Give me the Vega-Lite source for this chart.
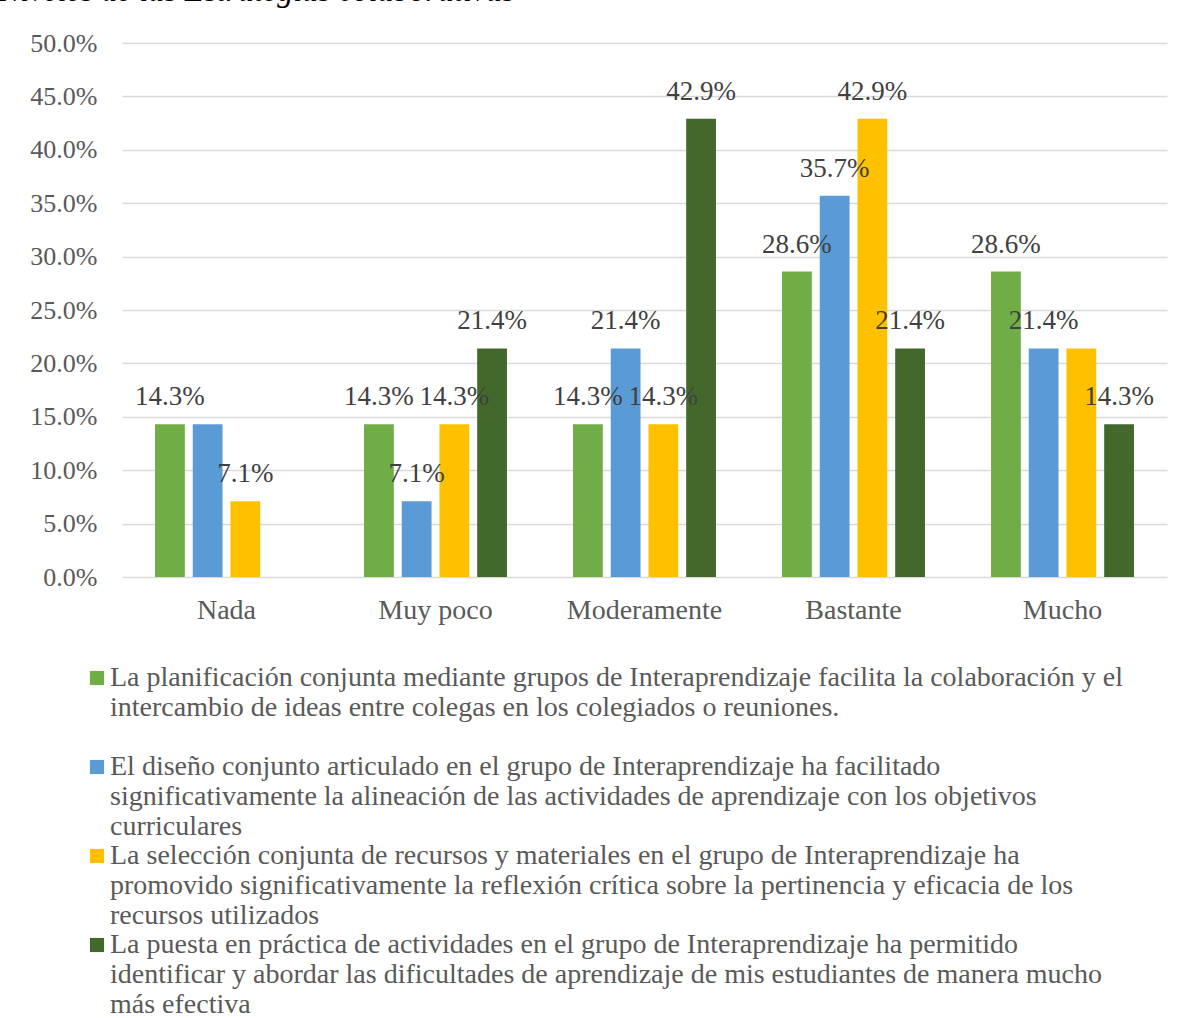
{
  "$schema": "https://vega.github.io/schema/vega-lite/v6.json",
  "autosize": {"type": "none"},
  "width": 1045,
  "height": 534,
  "padding": {"left": 122, "top": 43, "right": 15, "bottom": 441},
  "background": "white",
  "config": {"view": {"stroke": null}},
  "title": {
    "text": "Niveles de las Estrategias colaborativas",
    "anchor": "start",
    "frame": "group",
    "dx": -123,
    "dy": 20,
    "fontStyle": "italic",
    "fontWeight": "normal",
    "font": "Liberation Serif",
    "fontSize": 32,
    "color": "#000000",
    "baseline": "alphabetic",
    "offset": 17
  },
  "data": {
    "values": [
      {"nivel": "Nada", "serie": "s1", "valor": 0.143, "etiqueta": "14.3%"},
      {"nivel": "Nada", "serie": "s2", "valor": 0.143, "etiqueta": ""},
      {"nivel": "Nada", "serie": "s3", "valor": 0.071, "etiqueta": "7.1%"},
      {"nivel": "Nada", "serie": "s4", "valor": 0.0, "etiqueta": ""},
      {"nivel": "Muy poco", "serie": "s1", "valor": 0.143, "etiqueta": "14.3%"},
      {"nivel": "Muy poco", "serie": "s2", "valor": 0.071, "etiqueta": "7.1%"},
      {"nivel": "Muy poco", "serie": "s3", "valor": 0.143, "etiqueta": "14.3%"},
      {"nivel": "Muy poco", "serie": "s4", "valor": 0.214, "etiqueta": "21.4%"},
      {"nivel": "Moderamente", "serie": "s1", "valor": 0.143, "etiqueta": "14.3%"},
      {"nivel": "Moderamente", "serie": "s2", "valor": 0.214, "etiqueta": "21.4%"},
      {"nivel": "Moderamente", "serie": "s3", "valor": 0.143, "etiqueta": "14.3%"},
      {"nivel": "Moderamente", "serie": "s4", "valor": 0.429, "etiqueta": "42.9%"},
      {"nivel": "Bastante", "serie": "s1", "valor": 0.286, "etiqueta": "28.6%"},
      {"nivel": "Bastante", "serie": "s2", "valor": 0.357, "etiqueta": "35.7%"},
      {"nivel": "Bastante", "serie": "s3", "valor": 0.429, "etiqueta": "42.9%"},
      {"nivel": "Bastante", "serie": "s4", "valor": 0.214, "etiqueta": "21.4%"},
      {"nivel": "Mucho", "serie": "s1", "valor": 0.286, "etiqueta": "28.6%"},
      {"nivel": "Mucho", "serie": "s2", "valor": 0.214, "etiqueta": "21.4%"},
      {"nivel": "Mucho", "serie": "s3", "valor": 0.214, "etiqueta": ""},
      {"nivel": "Mucho", "serie": "s4", "valor": 0.143, "etiqueta": "14.3%"}
    ]
  },
  "encoding": {
    "x": {
      "field": "nivel",
      "type": "nominal",
      "sort": ["Nada", "Muy poco", "Moderamente", "Bastante", "Mucho"],
      "scale": {"paddingInner": 0.316, "paddingOuter": 0.158},
      "axis": {
        "title": null,
        "labelAngle": 0,
        "labelFont": "Liberation Serif",
        "labelFontSize": 28,
        "labelColor": "#595959",
        "labelPadding": 19,
        "ticks": false,
        "domain": false
      }
    },
    "xOffset": {
      "field": "serie",
      "type": "nominal",
      "sort": ["s1", "s2", "s3", "s4"],
      "scale": {"paddingInner": 0.21, "paddingOuter": 0}
    },
    "y": {
      "field": "valor",
      "type": "quantitative",
      "scale": {"domain": [0, 0.5], "nice": false},
      "axis": {
        "title": null,
        "values": [0, 0.05, 0.1, 0.15, 0.2, 0.25, 0.3, 0.35, 0.4, 0.45, 0.5],
        "format": ".1%",
        "labelFont": "Liberation Serif",
        "labelFontSize": 26,
        "labelColor": "#595959",
        "labelPadding": 25,
        "ticks": false,
        "domain": false,
        "grid": true,
        "gridColor": "#D9D9D9",
        "gridWidth": 1.5
      }
    }
  },
  "layer": [
    {
      "mark": {"type": "bar"},
      "encoding": {
        "color": {
          "field": "serie",
          "type": "nominal",
          "sort": ["s1", "s2", "s3", "s4"],
          "scale": {
            "domain": ["s1", "s2", "s3", "s4"],
            "range": ["#70AD47", "#5B9BD5", "#FFC000", "#43682B"]
          },
          "legend": {
            "orient": "none",
            "legendX": -39,
            "legendY": 621,
            "direction": "vertical",
            "title": null,
            "symbolType": "square",
            "symbolSize": 200,
            "symbolStrokeWidth": 0,
            "labelFont": "Liberation Serif",
            "labelFontSize": 28,
            "labelColor": "#595959",
            "labelLimit": 2000,
            "labelOffset": -1,
            "labelBaseline": "middle",
            "labelLineHeight": 32,
            "rowPadding": 1,
            "labelExpr": "datum.value == 's1' ? ['La planificación conjunta mediante grupos de Interaprendizaje facilita la colaboración y el', 'intercambio de ideas entre colegas en los colegiados o reuniones.', ''] : datum.value == 's2' ? ['El diseño conjunto articulado en el grupo de Interaprendizaje ha facilitado', 'significativamente la alineación de las actividades de aprendizaje con los objetivos', 'curriculares'] : datum.value == 's3' ? ['La selección conjunta de recursos y materiales en el grupo de Interaprendizaje ha', 'promovido significativamente la reflexión crítica sobre la pertinencia y eficacia de los', 'recursos utilizados'] : ['La puesta en práctica de actividades en el grupo de Interaprendizaje ha permitido', 'identificar y abordar las dificultades de aprendizaje de mis estudiantes de manera mucho', 'más efectiva']"
          }
        }
      }
    },
    {
      "mark": {
        "type": "text",
        "baseline": "middle",
        "dy": -27,
        "font": "Liberation Serif",
        "fontSize": 27,
        "color": "#404040"
      },
      "encoding": {
        "text": {"field": "etiqueta", "type": "nominal"}
      }
    }
  ]
}
